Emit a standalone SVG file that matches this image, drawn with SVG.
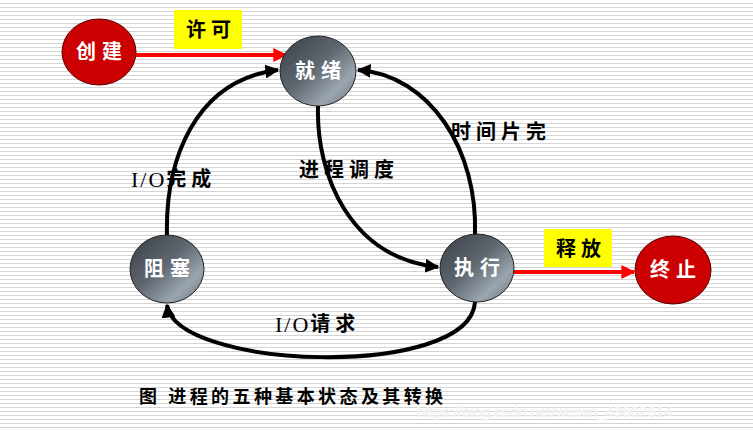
<svg xmlns="http://www.w3.org/2000/svg" width="753" height="431" viewBox="0 0 753 431">
<defs>
<pattern id="stripes" width="8" height="4" patternUnits="userSpaceOnUse">
<rect x="0" y="0" width="8" height="4" fill="#ffffff"/>
<rect x="0" y="3" width="8" height="1" fill="#d4d4d4"/>
</pattern>
<linearGradient id="gray" x1="0" y1="0" x2="1" y2="1">
<stop offset="0" stop-color="#3a3f46"/>
<stop offset="0.45" stop-color="#5e666f"/>
<stop offset="0.75" stop-color="#9aa5af"/>
<stop offset="1" stop-color="#6a727b"/>
</linearGradient>
<marker id="ab" viewBox="0 0 10 10" refX="9" refY="5" markerWidth="14" markerHeight="14" markerUnits="userSpaceOnUse" orient="auto">
<path d="M0,0 L10,5 L0,10 z" fill="#000"/>
</marker>
<marker id="ar" viewBox="0 0 10 10" refX="9" refY="5" markerWidth="14" markerHeight="14" markerUnits="userSpaceOnUse" orient="auto">
<path d="M0,0 L10,5 L0,10 z" fill="#ff0000"/>
</marker>
<style>
.red{fill:#cc0000;stroke:#5a0000;stroke-width:1}
.gray{fill:url(#gray);stroke:#222;stroke-width:1}
.nt{fill:#fff;font-family:"Liberation Serif","Noto Sans CJK SC",serif;font-size:20px;font-weight:bold;text-anchor:middle;dominant-baseline:central;letter-spacing:6px}
.lb{fill:#000;font-family:"Liberation Serif","Noto Sans CJK SC",serif;font-size:20px;font-weight:bold;dominant-baseline:central;letter-spacing:5px}
.io{font-size:22px;letter-spacing:2px;font-weight:normal}
.cap{fill:#000;font-family:"Liberation Serif","Noto Sans CJK SC",serif;font-size:18px;font-weight:bold;dominant-baseline:central;letter-spacing:3.4px}
.blk{fill:none;stroke:#000;stroke-width:4}
.rl{fill:none;stroke:#ff0000;stroke-width:4}
.yb{fill:#ffff00}
</style>
</defs>
<rect width="753" height="431" fill="url(#stripes)"/>

<g id="connectors">
<path class="rl" d="M136,55 L286,55" marker-end="url(#ar)"/>
<path class="rl" d="M514,272 L634,272" marker-end="url(#ar)"/>
<path class="blk" d="M167,236 C165,160 195,80 278,70" marker-end="url(#ab)"/>
<path class="blk" d="M318,106 C316,175 350,258 438,267" marker-end="url(#ab)"/>
<path class="blk" d="M475,235 C478,150 430,75 358,70" marker-end="url(#ab)"/>
<path class="blk" d="M475,302 C470,380 175,370 167,305" marker-end="url(#ab)"/>
</g>

<g id="label-xuke">
<rect class="yb" x="174" y="10" width="68" height="39"/>
<text class="lb" x="211" y="30" text-anchor="middle" letter-spacing="7">许可</text>
</g>
<g id="label-shifang">
<rect class="yb" x="544" y="229" width="68" height="38"/>
<text class="lb" x="581" y="249" text-anchor="middle" letter-spacing="7">释放</text>
</g>

<g id="node-chuangjian">
<ellipse class="red" cx="99" cy="52" rx="37" ry="33"/>
<text class="nt" x="102" y="52">创建</text>
</g>
<g id="node-jiuxu">
<ellipse class="gray" cx="318" cy="71" rx="38" ry="35"/>
<text class="nt" x="321" y="71">就绪</text>
</g>
<g id="node-zuse">
<ellipse class="gray" cx="167" cy="269" rx="37" ry="34"/>
<text class="nt" x="170" y="269">阻塞</text>
</g>
<g id="node-zhixing">
<ellipse class="gray" cx="477" cy="268" rx="37" ry="34"/>
<text class="nt" x="480" y="268">执行</text>
</g>
<g id="node-zhongzhi">
<ellipse class="red" cx="673" cy="270" rx="38" ry="34"/>
<text class="nt" x="676" y="270">终止</text>
</g>

<g id="labels">
<text class="lb" x="131" y="179"><tspan class="io">I/O</tspan>完成</text>
<text class="lb" x="299" y="170" letter-spacing="6">进程调度</text>
<text class="lb" x="451" y="132" letter-spacing="6">时间片完</text>
<text class="lb" x="275" y="324"><tspan class="io">I/O</tspan>请求</text>
<text class="cap" x="139" y="397">图 进程的五种基本状态及其转换</text>
<text x="417" y="411" fill="#ececec" stroke="#f6f6f6" stroke-width="0.5" font-family="Liberation Sans, sans-serif" font-size="15" dominant-baseline="central">https://blog.csdn.net/weixin_43602614</text>
</g>
</svg>
